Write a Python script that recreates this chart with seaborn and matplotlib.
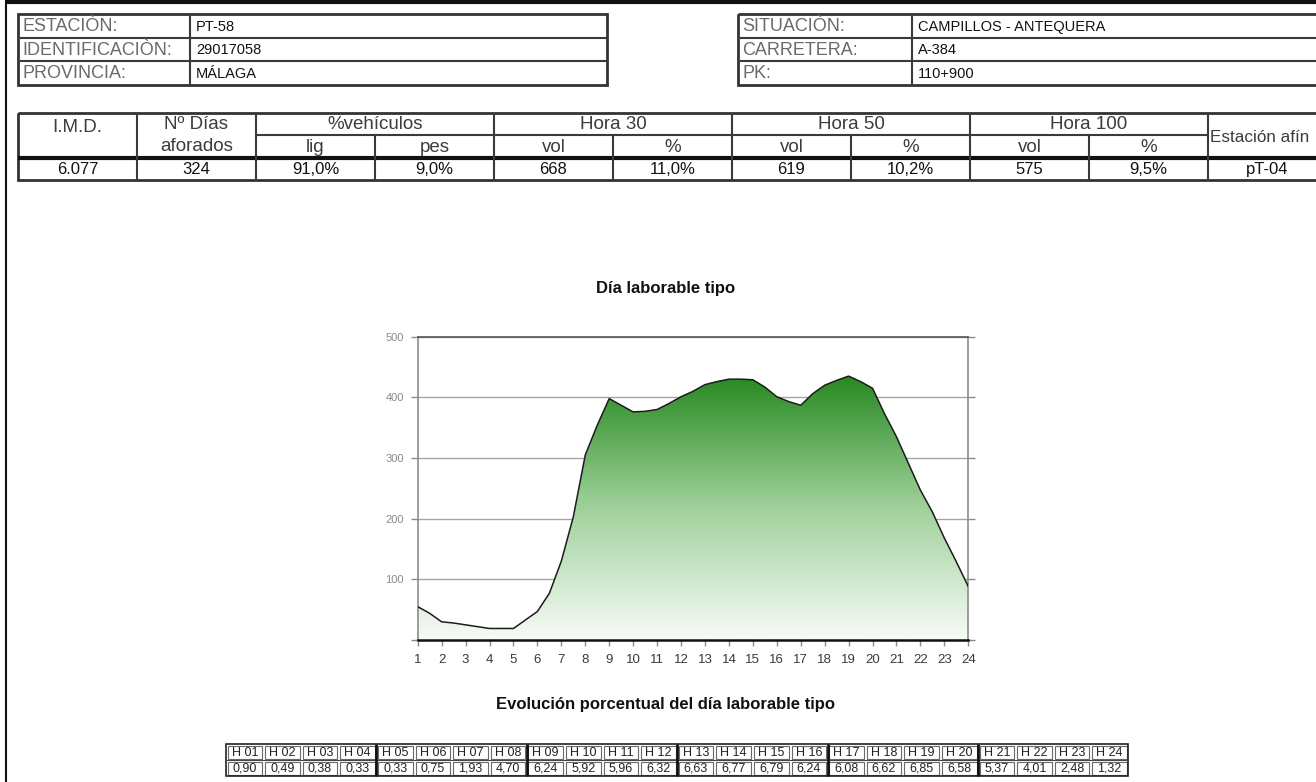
import numpy as np
import matplotlib
matplotlib.use("Agg")
import matplotlib.pyplot as plt
from matplotlib.colors import LinearSegmentedColormap
from matplotlib.patches import Rectangle, Polygon
import seaborn as sns

# --- datos de la estacion ---
station_labels = ["ESTACIÒN:", "IDENTIFICACIÒN:", "PROVINCIA:"]
station_values = ["PT-58", "29017058", "MÁLAGA"]
site_labels = ["SITUACIÒN:", "CARRETERA:", "PK:"]
site_values = ["CAMPILLOS - ANTEQUERA", "A-384", "110+900"]

# tabla de aforos
group_headers = ["%vehículos", "Hora 30", "Hora 50", "Hora 100"]
sub_headers = ["lig", "pes", "vol", "%", "vol", "%", "vol", "%"]
row_values = ["6.077", "324", "91,0%", "9,0%", "668", "11,0%", "619", "10,2%",
              "575", "9,5%", "pT-04"]

# curva del dia laborable (cada media hora)
hora = [1, 1.5, 2, 2.5, 3, 3.5, 4, 4.5, 5, 5.5, 6, 6.5, 7, 7.5, 8, 8.5,
        9, 9.5, 10, 10.5, 11, 11.5, 12, 12.5, 13, 13.5, 14, 14.5, 15, 15.5,
        16, 16.5, 17, 17.5, 18, 18.5, 19, 19.5, 20, 20.5, 21, 21.5, 22, 22.5,
        23, 23.5, 24]
vehiculos = [55, 44, 30, 28, 25, 22, 19, 19, 19, 33, 47, 77, 130, 203, 305, 354,
             398, 387, 376, 377, 380, 390, 401, 410, 421, 426, 430, 430, 429, 417,
             401, 393, 387, 406, 420, 428, 435, 426, 415, 373, 335, 291, 247, 211,
             168, 129, 88]
hour_ticks = list(range(1, 25))
y_ticks = [0, 100, 200, 300, 400, 500]
y_ticklabels = ["", "100", "200", "300", "400", "500"]

# evolucion porcentual
hour_labels = ["H 01", "H 02", "H 03", "H 04", "H 05", "H 06", "H 07", "H 08",
               "H 09", "H 10", "H 11", "H 12", "H 13", "H 14", "H 15", "H 16",
               "H 17", "H 18", "H 19", "H 20", "H 21", "H 22", "H 23", "H 24"]
pct_values = ["0,90", "0,49", "0,38", "0,33", "0,33", "0,75", "1,93", "4,70",
              "6,24", "5,92", "5,96", "6,32", "6,63", "6,77", "6,79", "6,24",
              "6,08", "6,62", "6,85", "6,58", "5,37", "4,01", "2,48", "1,32"]

sns.set_theme(style="white")
plt.rcParams['font.family'] = ['Liberation Sans', 'DejaVu Sans']

W, H = 1316, 782
fig = plt.figure(figsize=(W / 100, H / 100), dpi=100)
page = fig.add_axes([0, 0, 1, 1])
page.set_xlim(0, W)
page.set_ylim(H, 0)
page.axis("off")


def hline(x0, x1, y, lw=1.5, color="#3a3a3a"):
    page.plot([x0, x1], [y, y], color=color, lw=lw, solid_capstyle="butt")


def vline(x, y0, y1, lw=1.5, color="#3a3a3a"):
    page.plot([x, x], [y0, y1], color=color, lw=lw, solid_capstyle="butt")


# marco de la pagina
hline(5, W, 2, lw=3, color="#111")
vline(6, 2, H, lw=1.5, color="#111")

# tablas de cabecera
rows_h = [14, 37.5, 61, 85]


def header_table(x0, xdiv, x1, labels, values):
    page.add_patch(Rectangle((x0, rows_h[0]), x1 - x0, rows_h[-1] - rows_h[0],
                             fill=False, ec="#333", lw=2))
    for y in rows_h[1:-1]:
        hline(x0, x1, y)
    vline(xdiv, rows_h[0], rows_h[-1])
    for i in range(3):
        yc = (rows_h[i] + rows_h[i + 1]) / 2
        page.text(x0 + 4, yc + 1, labels[i], fontsize=13, color="#6a6a6a",
                  va="center", ha="left")
        page.text(xdiv + 6, yc + 1, values[i], fontsize=10.5, color="#111",
                  va="center", ha="left")


header_table(18, 190, 607, station_labels, station_values)
header_table(738, 912, 1330, site_labels, site_values)

# tabla de aforos
cols = [18, 137, 256, 375, 494, 613, 732, 851, 970, 1089, 1208, 1327]
rows_t = [113, 135, 158, 180]
page.add_patch(Rectangle((cols[0], rows_t[0]), cols[-1] - cols[0],
                         rows_t[-1] - rows_t[0], fill=False, ec="#333", lw=2))
hline(cols[2], cols[10], rows_t[1])
hline(cols[0], cols[-1], rows_t[2], lw=3, color="#111")
for x in [137, 256, 494, 732, 970, 1208]:
    vline(x, rows_t[0], rows_t[-1])
for x in [375, 613, 851, 1089]:
    vline(x, rows_t[1], rows_t[-1])

hc = "#3c3c3c"
fs_h = 13.5
page.text((cols[0] + cols[1]) / 2, 127, "I.M.D.", fontsize=fs_h, color=hc,
          ha="center", va="center")
page.text((cols[1] + cols[2]) / 2, 124.5, "Nº Días", fontsize=fs_h, color=hc,
          ha="center", va="center")
page.text((cols[1] + cols[2]) / 2, 146.5, "aforados", fontsize=fs_h, color=hc,
          ha="center", va="center")
for g, name in enumerate(group_headers):
    xc = cols[2 + 2 * g + 1]
    page.text(xc, 124.5, name, fontsize=fs_h, color=hc, ha="center", va="center")
for k, name in enumerate(sub_headers):
    xc = (cols[2 + k] + cols[3 + k]) / 2
    page.text(xc, 147, name, fontsize=fs_h, color=hc, ha="center", va="center")
page.text(cols[10] + 2, 137, "Estación afín", fontsize=12.3, color=hc,
          ha="left", va="center")
for k, val in enumerate(row_values):
    xc = (cols[k] + cols[k + 1]) / 2
    page.text(xc, 169.5, val, fontsize=12, color="#111", ha="center", va="center")

# titulo del grafico
page.text(666, 289, "Día laborable tipo", fontsize=12, weight="bold",
          color="#111", ha="center", va="center")

# grafico
x0p, x1p, y0p, y1p = 417.7, 968.3, 336.7, 640
ax = fig.add_axes([x0p / W, 1 - y1p / H, (x1p - x0p) / W, (y1p - y0p) / H])
ax.set_xlim(1, 24)
ax.set_ylim(0, 500)
ax.set_axisbelow(True)
ax.yaxis.grid(True, color="#a5a5a5", lw=1)
ax.xaxis.grid(False)

cmap = LinearSegmentedColormap.from_list(
    "verde", [(0, "#f7fbf6"), (0.45, "#9ccf98"), (0.86, "#2a8b24"), (1, "#258620")])
grad = np.linspace(0, 1, 300).reshape(-1, 1)
im = ax.imshow(grad, extent=[1, 24, 0, 500], origin="lower", cmap=cmap,
               aspect="auto", zorder=2)
verts = np.column_stack([hora + hora[::-1], vehiculos + [0] * len(hora)])
area = Polygon(verts, closed=True, facecolor="none", edgecolor="none",
               transform=ax.transData)
ax.add_patch(area)
im.set_clip_path(area)

sns.lineplot(x=hora, y=vehiculos, ax=ax, color="#1c1c1c", linewidth=1.1,
             zorder=3)

ax.set_xticks(hour_ticks)
ax.set_xticklabels([str(h) for h in hour_ticks])
ax.set_yticks(y_ticks)
ax.set_yticklabels(y_ticklabels)
ax.tick_params(axis="y", left=True, right=True, length=5, width=1,
               color="#8a8a8a", labelsize=8, labelcolor="#8a8a8a", pad=5)
ax.tick_params(axis="x", bottom=True, length=4, width=1, color="#8a8a8a",
               labelsize=9.5, labelcolor="#3a3a3a", pad=6)
ax.set_xlabel("")
ax.set_ylabel("")
for side, c, lw in [("left", "#8c8c8c", 1.2), ("right", "#8c8c8c", 1.2),
                    ("top", "#555", 1.2), ("bottom", "#111", 1.8)]:
    ax.spines[side].set_color(c)
    ax.spines[side].set_linewidth(lw)
    ax.spines[side].set_visible(True)

# evolucion porcentual
page.text(666, 705, "Evolución porcentual del día laborable tipo", fontsize=12,
          weight="bold", color="#111", ha="center", va="center")

cx0, cw = 226, 37.6
ry = [744, 760, 776]
for i in range(24):
    x = cx0 + i * cw
    for r, txt in enumerate([hour_labels[i], pct_values[i]]):
        page.add_patch(Rectangle((x + 1.5, ry[r] + 1.5), cw - 3, ry[r + 1] - ry[r] - 3,
                                 fill=False, ec="#6a6a6a", lw=0.8))
        page.text(x + cw / 2, (ry[r] + ry[r + 1]) / 2 + 0.5, txt, fontsize=9,
                  color="#222", ha="center", va="center")
page.add_patch(Rectangle((cx0, ry[0]), 24 * cw, ry[-1] - ry[0], fill=False,
                         ec="#222", lw=1.2))
hline(cx0, cx0 + 24 * cw, ry[1], lw=0.8, color="#444")
for g in range(1, 6):
    vline(cx0 + 4 * g * cw, ry[0], ry[-1], lw=2, color="#111")

fig.savefig("out.png", dpi=100)
